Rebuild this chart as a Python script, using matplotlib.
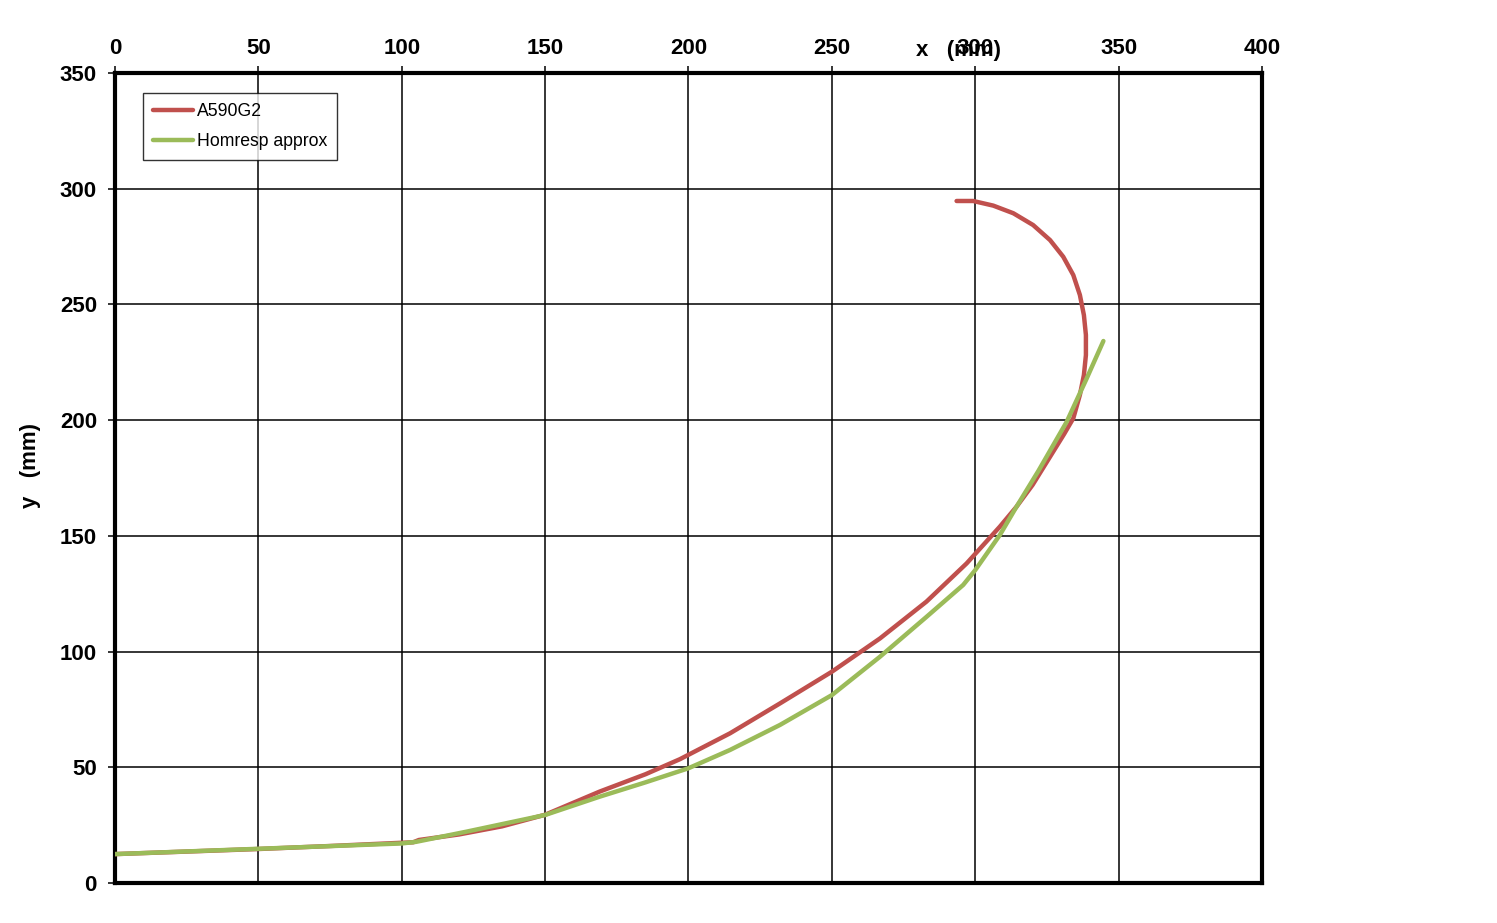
import matplotlib
matplotlib.use("Agg")
import matplotlib.pyplot as plt

plt.rcParams['font.family'] = ['Liberation Sans', 'DejaVu Sans']

# measured curve A590G2 (mm)
red_x = [0, 25, 50, 75, 100, 104, 106, 120, 135, 150, 169, 185, 197, 214.5, 231.9,
         250, 266.8, 283, 297, 308.6, 314.4, 320, 326, 331, 334.2, 336.5, 337.9,
         338.6, 338.6, 337.9, 336.5, 334.2, 330.7, 326.1, 320.2, 313.3, 306.3,
         299.3, 293.5]
red_y = [12.5, 13.6, 14.7, 16.0, 17.4, 17.6, 18.6, 21.0, 24.5, 29.5, 39.5, 47, 53.5, 64.7, 77.6,
         91.3, 105.7, 121.6, 138.1, 154, 162.6, 172, 184, 194, 200.8, 210.9, 219.5,
         228.1, 236.8, 245.4, 254.1, 262.7, 270.6, 277.8, 284.3, 289.4, 292.7,
         294.7, 294.7]

# Homresp approximation (mm)
green_x = [0, 50, 100, 105, 122.6, 150, 169, 185, 200, 214.5, 231.9, 250, 266.8,
           283, 295.8, 300, 308.6, 314.4, 322, 331.9, 338.9, 344.7]
green_y = [12.5, 14.8, 17.1, 17.8, 22.2, 29.4, 37.3, 43.5, 49.6, 57.5, 68.3, 81.2, 97.8,
           115, 128.8, 135.2, 150.4, 162.6, 178, 199.3, 218.1, 234.2]

fig = plt.figure(figsize=(14.97, 9.23), dpi=100)
ax = fig.add_axes([0.0768, 0.0433, 0.7662, 0.8776])

ax.plot(red_x, red_y, color='#C0504D', lw=3.2, solid_capstyle='round',
        solid_joinstyle='round', label='A590G2', zorder=3)
ax.plot(green_x, green_y, color='#9BBB59', lw=3.2, solid_capstyle='round',
        solid_joinstyle='round', label='Homresp approx', zorder=4)

ax.set_xlim(0, 400)
ax.set_ylim(0, 350)
ax.set_xticks(range(0, 401, 50))
ax.set_yticks(range(0, 351, 50))
ax.grid(True, color='black', lw=1.1)
ax.set_axisbelow(True)

ax.xaxis.tick_top()
ax.xaxis.set_label_position('top')
ax.tick_params(axis='both', direction='out', length=5, width=1.1, labelsize=16)
ax.tick_params(axis='x', pad=5)
ax.tick_params(axis='y', pad=8)
for lab in ax.get_xticklabels() + ax.get_yticklabels():
    lab.set_fontweight('bold')
for sp in ax.spines.values():
    sp.set_linewidth(3)

ax.set_xlabel('x   (mm)', fontsize=16, fontweight='bold')
ax.xaxis.set_label_coords(0.735, 1.028)
ax.xaxis.label.set_va('center')
ax.set_ylabel('y   (mm)', fontsize=16, fontweight='bold')
ax.yaxis.set_label_coords(-0.074, 0.515)
ax.yaxis.label.set_va('center')

leg = ax.legend(loc='upper left', bbox_to_anchor=(0.0244, 0.975), fontsize=12.7,
                frameon=True, fancybox=False, handlelength=2.3, handletextpad=0.2,
                labelspacing=0.75, borderpad=0.55, borderaxespad=0)
leg.get_frame().set_edgecolor('black')
leg.get_frame().set_linewidth(1)

fig.savefig('out.png', dpi=100)
